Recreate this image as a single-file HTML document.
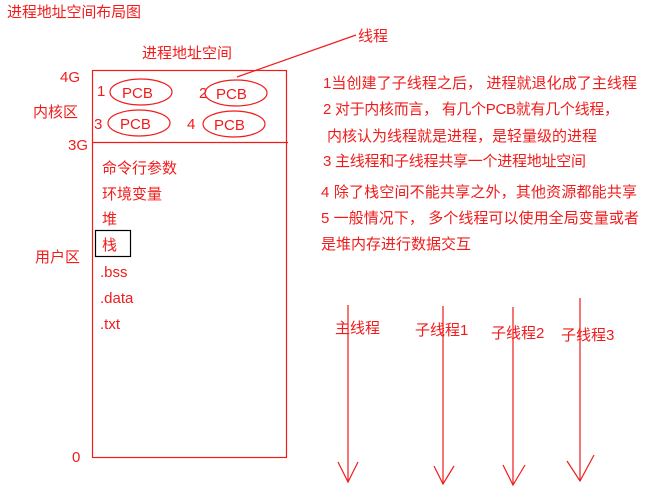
<!DOCTYPE html>
<html><head><meta charset="utf-8"><style>
html,body{margin:0;padding:0;background:#fff;}
svg text{font-family:"Liberation Sans","Noto Sans CJK SC",sans-serif;fill:#f01c1c;font-size:15px;}
</style></head><body>
<svg width="664" height="498" viewBox="0 0 664 498" xmlns="http://www.w3.org/2000/svg">
<g stroke="#f01c1c" stroke-width="1.2" fill="none">
<rect x="92.5" y="70.5" width="194" height="387"/>
<line x1="92" y1="142.5" x2="288" y2="142.5"/>
<ellipse cx="141" cy="92" rx="31" ry="13"/>
<ellipse cx="236" cy="93" rx="31" ry="13"/>
<ellipse cx="139" cy="123" rx="31" ry="13"/>
<ellipse cx="234" cy="124" rx="31" ry="13"/>
<line x1="237" y1="77" x2="356" y2="35"/>
<line x1="348" y1="305" x2="348" y2="482"/>
<polyline points="338,462 348,482 358,462"/>
<line x1="443" y1="306" x2="443" y2="484"/>
<polyline points="434,466 443,484 454,466"/>
<line x1="513" y1="307" x2="513" y2="485"/>
<polyline points="503,465 513,485 525,465"/>
<line x1="580" y1="298" x2="580" y2="481"/>
<polyline points="567,461 580,481 594,455"/>
</g>
<rect x="95.5" y="230.5" width="35" height="26" fill="none" stroke="#000" stroke-width="1.2"/>
<text x="7" y="17" textLength="134">进程地址空间布局图</text>
<text x="142" y="58" textLength="90">进程地址空间</text>
<text x="358" y="41">线程</text>
<text x="60" y="82">4G</text>
<text x="33" y="117">内核区</text>
<text x="68" y="150">3G</text>
<text x="35" y="262">用户区</text>
<text x="72" y="462">0</text>
<text x="97" y="96">1</text>
<text x="122" y="98">PCB</text>
<text x="199" y="98">2</text>
<text x="216" y="99">PCB</text>
<text x="94" y="129">3</text>
<text x="120" y="129">PCB</text>
<text x="187" y="129">4</text>
<text x="214" y="130">PCB</text>
<text x="102" y="173">命令行参数</text>
<text x="102" y="199">环境变量</text>
<text x="102" y="224">堆</text>
<text x="102" y="250">栈</text>
<text x="100" y="277">.bss</text>
<text x="100" y="303">.data</text>
<text x="100" y="329">.txt</text>
<text x="323" y="88" textLength="314">1当创建了子线程之后， 进程就退化成了主线程</text>
<text x="323" y="114" textLength="296">2 对于内核而言， 有几个PCB就有几个线程，</text>
<text x="327" y="141" textLength="270">内核认为线程就是进程，是轻量级的进程</text>
<text x="323" y="166" textLength="263">3 主线程和子线程共享一个进程地址空间</text>
<text x="321" y="197" textLength="316">4 除了栈空间不能共享之外，其他资源都能共享</text>
<text x="321" y="223" textLength="318">5 一般情况下， 多个线程可以使用全局变量或者</text>
<text x="321" y="249" textLength="150">是堆内存进行数据交互</text>
<text x="335" y="333">主线程</text>
<text x="415" y="335">子线程1</text>
<text x="491" y="338">子线程2</text>
<text x="561" y="340">子线程3</text>
</svg>
</body></html>
